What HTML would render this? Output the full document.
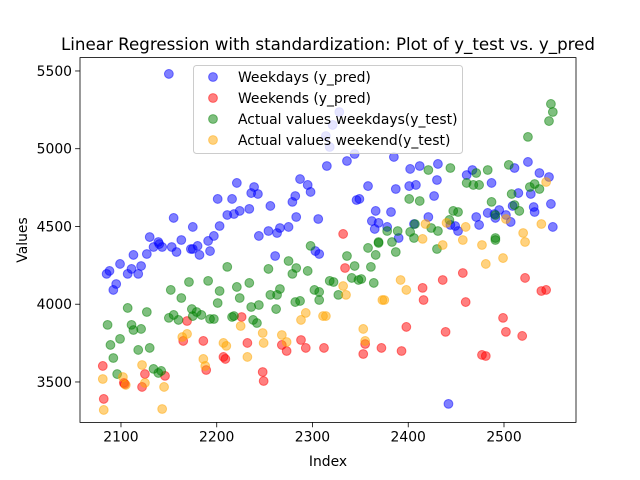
<!DOCTYPE html>
<html><head><meta charset="utf-8"><style>
html,body{margin:0;padding:0;background:#fff;}
svg{display:block;font-family:"DejaVu Sans","Liberation Sans",sans-serif;}
</style></head><body>
<svg id="chart" width="640" height="480" viewBox="0 0 640 480" xmlns="http://www.w3.org/2000/svg">
<rect x="0" y="0" width="640" height="480" fill="#fff"/>
<text x="328" y="50" font-size="16.7" text-anchor="middle" fill="#000">Linear Regression with standardization: Plot of y_test vs. y_pred</text>
<g id="marks"></g>
<g id="axes"></g>
<text x="328" y="466" font-size="13.9" text-anchor="middle">Index</text>
<text x="0" y="0" font-size="13.9" text-anchor="middle" transform="translate(27,240) rotate(-90)">Values</text>
<g id="legend"></g>
</svg>
<script>
const xTicks=[2100,2200,2300,2400,2500];
const yTicks=[3500,4000,4500,5000,5500];
const seriesNames=["Weekdays (y_pred)","Weekends (y_pred)","Actual values weekdays(y_test)","Actual values weekend(y_test)"];
const wdPredIdx=[2150,2130,2155,2175,2197,2203,2191,2163,2139,2201,2211,2218,2224,2216,2221,2234,2236,2239,2243,2244,2254,2256,2263,2266,2275,2279,2282,2283,2287,2295,2298,2306,2315,2085,2088,2092,2095,2099,2113,2107,2111,2118,2121,2127,2134,2140,2143,2153,2158,2173,2175,2180,2182,2193,2261,2303,2307,2328,2318,2344,2336,2385,2402,2412,2431,2430,2461,2467,2487,2511,2525,2537,2547,2358,2387,2401,2408,2427,2346,2349,2515,2528,2531,2532,2549,2551,2366,2382,2421,2362,2369,2378,2365,2406,2390,2471,2474,2483,2490,2495,2491,2509,2507,2502,2449,2452,2444,2321,2442,2314];
const wdPredVal=[5481,4432,4555,4497,4439,4503,4407,4413,4400,4677,4574,4580,4600,4677,4780,4613,4715,4754,4709,4439,4471,4632,4458,4490,4497,4658,4696,4561,4805,4767,4722,4548,4889,4195,4214,4092,4130,4259,4317,4195,4227,4195,4246,4323,4368,4387,4368,4368,4336,4355,4355,4375,4317,4342,4310,4342,4323,5236,5011,4966,4921,4947,4870,4889,4902,4799,4831,4863,4780,4876,4915,4844,4818,4760,4741,4760,4767,4696,4670,4677,4715,4709,4625,4593,4645,4497,4600,4593,4561,4535,4523,4497,4484,4516,4426,4561,4510,4587,4580,4606,4555,4632,4529,4574,4503,4471,4510,5153,3359,5082];
const weIdx=[2081,2082,2104,2103,2122,2125,2146,2169,2165,2186,2189,2207,2209,2226,2232,2248,2249,2268,2273,2288,2293,2312,2334,2355,2353,2372,2393,2398,2415,2416,2436,2439,2457,2460,2477,2481,2499,2502,2519,2522,2539,2544,2332];
const wePredVal=[3603,3391,3487,3494,3468,3551,3539,3892,3764,3764,3577,3661,3648,3918,3751,3564,3506,3738,3699,3770,3719,3719,4233,3744,3680,3719,3699,3854,4105,4027,4156,3822,4201,4014,3674,3667,3912,3822,3796,4169,4085,4092,4452];
const wdTestIdx=[2086,2089,2092,2096,2099,2107,2111,2113,2121,2118,2127,2130,2134,2139,2142,2150,2152,2155,2160,2163,2171,2174,2175,2179,2184,2191,2193,2197,2201,2203,2211,2216,2218,2221,2224,2234,2236,2238,2242,2244,2254,2256,2262,2263,2266,2275,2279,2282,2283,2287,2295,2298,2302,2307,2307,2336,2358,2366,2369,2383,2387,2344,2361,2341,2318,2322,2348,2351,2364,2327,2430,2491,2406,2549,2551,2547,2525,2505,2483,2471,2444,2421,2461,2468,2474,2487,2508,2511,2516,2527,2532,2537,2401,2412,2447,2452,2491,2443,2407,2424,2431,2378,2389,2402,2369,2491];
const wdTestVal=[3867,3738,3654,3551,3777,3976,3867,3834,3841,3706,3950,3719,3584,3558,3571,3912,4092,3931,3899,4040,4143,3969,3924,3950,3931,4150,3905,3905,4008,4085,4240,3918,3924,4111,4040,4137,3982,3899,3879,3995,4227,4060,3969,4060,4098,4278,4195,4014,4233,4021,4214,4375,4092,4079,4027,4310,4362,4317,4394,4400,4336,4246,4240,4169,4150,4143,4156,4162,4137,4060,4355,4413,4426,5288,5236,5178,5076,4896,4863,4844,4876,4863,4780,4767,4767,4658,4709,4638,4600,4754,4773,4741,4677,4664,4600,4593,4574,4542,4516,4490,4471,4471,4471,4465,4400,4426];
const weTestIdx=[2081,2082,2102,2105,2122,2125,2145,2143,2164,2169,2186,2188,2207,2210,2225,2232,2248,2249,2268,2273,2288,2293,2311,2314,2332,2335,2353,2355,2373,2375,2392,2398,2436,2457,2477,2481,2499,2522,2415,2544,2539,2520,2502,2460,2440,2418];
const weTestVal=[3519,3320,3532,3481,3609,3494,3468,3326,3789,3809,3648,3603,3751,3732,3860,3661,3815,3751,3802,3757,3899,3944,3924,3924,4117,4060,3841,3764,4027,4027,4156,4092,4381,4413,4381,4259,4297,4400,4420,4786,4516,4458,4548,4497,4523,4516];

const L=80,R=576,T=57.6,B=422.4,XMIN=2057.2,XMAX=2575.2,YMIN=3240,YMAX=5586;
function xs(v){return L+(v-XMIN)/(XMAX-XMIN)*(R-L);}
function ys(v){return B-(v-YMIN)/(YMAX-YMIN)*(B-T);}
const NS="http://www.w3.org/2000/svg";
function mk(tag,attrs,parent){const e=document.createElementNS(NS,tag);for(const k in attrs)e.setAttribute(k,attrs[k]);parent.appendChild(e);return e;}
const marks=document.getElementById('marks');
const colors=["#0000ff","#ff0000","#008000","#ffa500"];
const sets=[[wdPredIdx,wdPredVal,'weekday-pred-point'],[weIdx,wePredVal,'weekend-pred-point'],[wdTestIdx,wdTestVal,'weekday-test-point'],[weTestIdx,weTestVal,'weekend-test-point']];
sets.forEach((s,si)=>{
  const g=mk('g',{},marks);
  
  
  for(let i=0;i<s[0].length;i++){
    const c=mk('circle',{cx:xs(s[0][i]),cy:ys(s[1][i]),r:4.4,fill:colors[si],'fill-opacity':0.5,stroke:colors[si],'stroke-opacity':0.5,'stroke-width':1},g);
    
    
  }
});
const axes=document.getElementById('axes');
xTicks.forEach(t=>{
  const x=xs(t);
  const l=mk('line',{x1:x,x2:x,y1:B,y2:B+4.9,stroke:'#000','stroke-width':0.8},axes);
  
  
  const tx=mk('text',{x:x,y:B+19,'font-size':13.9,'text-anchor':'middle'},axes);
  tx.textContent=t;
  
  
});
yTicks.forEach(t=>{
  const y=ys(t);
  const l=mk('line',{x1:L-4.9,x2:L,y1:y,y2:y,stroke:'#000','stroke-width':0.8},axes);
  
  
  const tx=mk('text',{x:L-8,y:y+5,'font-size':13.9,'text-anchor':'end'},axes);
  tx.textContent=t;
  
  
});
const frame=mk('rect',{x:L,y:T,width:R-L,height:B-T,fill:'none',stroke:'#000','stroke-width':0.8},axes);


const lg=document.getElementById('legend');
const box=mk('rect',{x:193.5,y:65.5,width:269,height:88,rx:3,fill:'#fff','fill-opacity':0.8,stroke:'#ccc','stroke-width':1},lg);


seriesNames.forEach((n,i)=>{
  const y=77+i*21;
  const c=mk('circle',{cx:213,cy:y,r:4.4,fill:colors[i],'fill-opacity':0.5,stroke:colors[i],'stroke-opacity':0.5},lg);
  
  
  const t=mk('text',{x:238,y:y+5,'font-size':13.9},lg);
  t.textContent=n;
  
  
});
</script>
</body></html>
